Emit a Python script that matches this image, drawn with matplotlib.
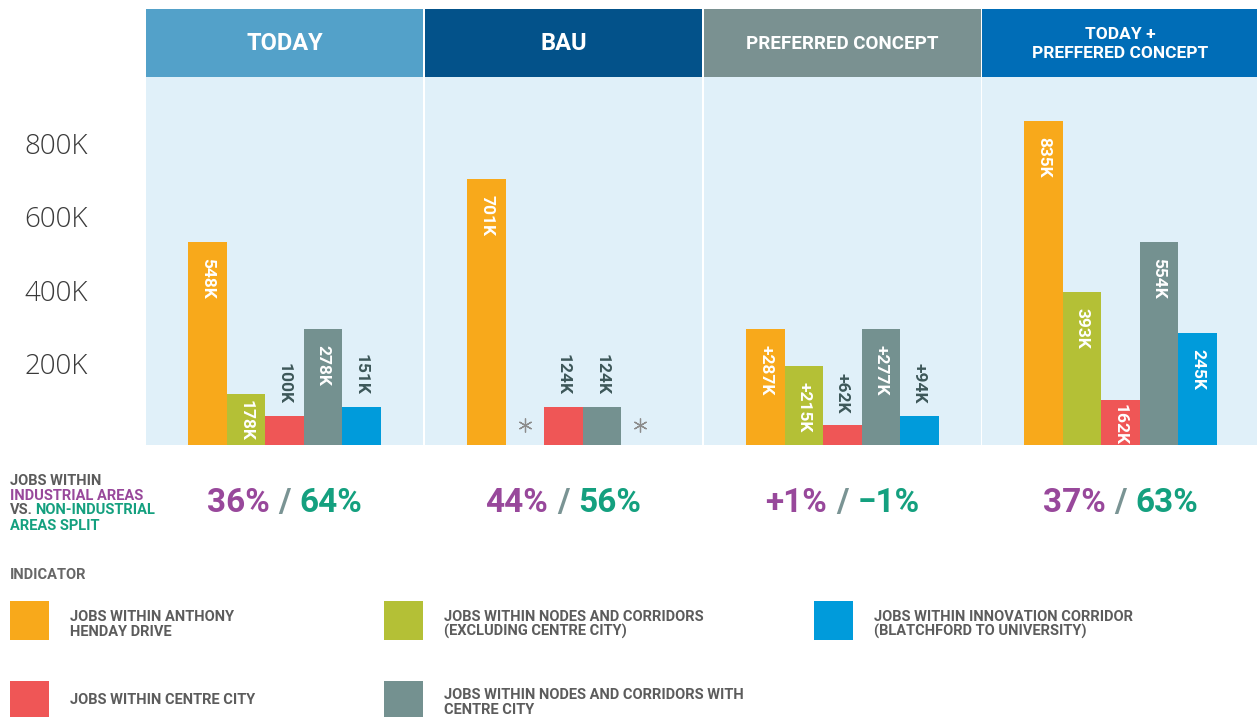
import matplotlib
matplotlib.use('Agg')
import matplotlib.pyplot as plt
from matplotlib.patches import Rectangle
import numpy as np

W, H = 1257, 717
plt.rcParams['font.family'] = ['Roboto', 'DejaVu Sans']

# ---- data (bar heights in thousands of jobs) ----
panels = ['TODAY', 'BAU', 'PREFERRED CONCEPT', 'TODAY +\nPREFFERED CONCEPT']
indicators = ['JOBS WITHIN ANTHONY\nHENDAY DRIVE',
              'JOBS WITHIN NODES AND CORRIDORS\n(EXCLUDING CENTRE CITY)',
              'JOBS WITHIN CENTRE CITY',
              'JOBS WITHIN NODES AND CORRIDORS WITH\nCENTRE CITY',
              'JOBS WITHIN INNOVATION CORRIDOR\n(BLATCHFORD TO UNIVERSITY)']
today = [552, 139, 79, 315, 103]
bau = [723, np.nan, 103, 103, np.nan]
preferred = [315, 215, 54, 315, 79]
today_pref = [880, 416, 122, 552, 304]
today_lbl = ['548K', '178K', '100K', '278K', '151K']
bau_lbl = ['701K', '', '124K', '124K', '']
pref_lbl = ['+287K', '+215K', '+62K', '+277K', '+94K']
today_pref_lbl = ['835K', '393K', '162K', '554K', '245K']
split_industrial = ['36%', '44%', '+1%', '37%']
split_non_industrial = ['64%', '56%', '\u22121%', '63%']
yticks = [200, 400, 600, 800]

values = [today, bau, preferred, today_pref]
labels = [today_lbl, bau_lbl, pref_lbl, today_pref_lbl]

header_colors = ['#53a1c9', '#03528a', '#7a9191', '#006db7']
bar_colors = ['#f8a91b', '#b4c036', '#ef5656', '#749190', '#009bdb']
bg_color = '#e0f0f9'
purple = '#98489b'
teal = '#14a07f'
slash = '#7a9494'
grey_txt = '#5c5c5c'

fig = plt.figure(figsize=(W / 100, H / 100), dpi=100)

# overlay axes in pixel coordinates (y down) for headers, texts, legend
ov = fig.add_axes([0, 0, 1, 1])
ov.set_xlim(0, W)
ov.set_ylim(H, 0)
ov.axis('off')


def box(x0, y0, x1, y1):
    return [x0 / W, 1 - y1 / H, (x1 - x0) / W, (y1 - y0) / H]


def rainbow(x, y, parts, center=False, gap=0, **kw):
    texts = [ov.text(x, y, s, color=c, ha='left', va='baseline', **kw) for s, c in parts]
    r = fig.canvas.get_renderer()
    widths = [t.get_window_extent(r).width for t in texts]
    total = sum(widths) + gap * (len(texts) - 1)
    start = x - total / 2 if center else x
    for t, w in zip(texts, widths):
        t.set_x(start)
        start += w + gap


pw, top, hdr_top, bottom = 277, 77, 9, 445
lefts = [146, 425, 704, 982]
px_per_k = (bottom - top) / 1000.0

for k in range(4):
    x0 = lefts[k]
    ov.add_patch(Rectangle((x0, hdr_top), pw, top - hdr_top, color=header_colors[k], lw=0))
    fs = [17, 17, 13.5, 12.5][k]
    ov.text(x0 + pw / 2, (hdr_top + top) / 2 + 1, panels[k], ha='center', va='center',
            color='white', fontsize=fs, fontweight='bold', linespacing=1.3)

    ax = fig.add_axes(box(x0, top, x0 + pw, bottom))
    ax.set_facecolor(bg_color)
    ax.set_xlim(-1.6, 5.6)
    ax.set_ylim(0, 1000)
    for s in ax.spines.values():
        s.set_visible(False)
    ax.set_xticks([])
    ax.set_yticks([])

    vals = values[k]
    for i, v in enumerate(vals):
        if np.isnan(v):
            ax.plot(i, 55, marker=(6, 2, 0), ms=10, mew=0.9, color='#8c8c8c')
            continue
        ax.bar(i, v, width=1.0, color=bar_colors[i], lw=0)
        hpx = v * px_per_k
        if v >= 115:
            off = max(4, min(16, hpx - 45))
            ax.annotate(labels[k][i], (i, v), xytext=(0, -off), textcoords='offset pixels',
                        rotation=-90, ha='center', va='top', color='white',
                        fontsize=12.5, fontweight='bold')
        else:
            ax.annotate(labels[k][i], (i, v), xytext=(0, 12), textcoords='offset pixels',
                        rotation=-90, ha='center', va='bottom', color='#3d5759',
                        fontsize=12.5, fontweight='bold')

    if k == 0:
        for t in yticks:
            ax.annotate('%dK' % t, (0, t), xycoords=('axes fraction', 'data'),
                        xytext=(-58, -3), textcoords='offset pixels', ha='right',
                        va='baseline', fontsize=20, color='#3a3a3a',
                        family=['Open Sans', 'DejaVu Sans'], fontweight='light',
                        annotation_clip=False)

    rainbow(x0 + pw / 2, 512, [(split_industrial[k], purple), ('/', slash),
                                (split_non_industrial[k], teal)],
            center=True, gap=9, fontsize=24, fontweight='bold')

# split caption
cap = dict(fontsize=10.5, fontweight='bold')
rainbow(10, 485, [('JOBS WITHIN', grey_txt)], **cap)
rainbow(10, 499.5, [('INDUSTRIAL AREAS', purple)], **cap)
rainbow(10, 514.5, [('VS.', grey_txt), ('NON-INDUSTRIAL', teal)], gap=2, **cap)
rainbow(10, 529.5, [('AREAS SPLIT', teal)], **cap)

ov.text(10, 579, 'INDICATOR', color='#666666', ha='left', va='baseline', **cap)

# legend
sq_x = [10, 384, 10, 384, 814]
sq_y = [601, 601, 681, 681, 601]
for i in range(5):
    ov.add_patch(Rectangle((sq_x[i], sq_y[i]), 39, 39, color=bar_colors[i], lw=0))
    lines = indicators[i].split('\n')
    if len(lines) == 1:
        base = sq_y[i] + 23
    else:
        base = sq_y[i] + 20 if sq_y[i] < 650 else sq_y[i] + 18
    for j, ln in enumerate(lines):
        ov.text(sq_x[i] + 60, base + j * 15, ln, color=grey_txt, ha='left',
                va='baseline', **cap)

fig.savefig('out.png', dpi=100, facecolor='white')
